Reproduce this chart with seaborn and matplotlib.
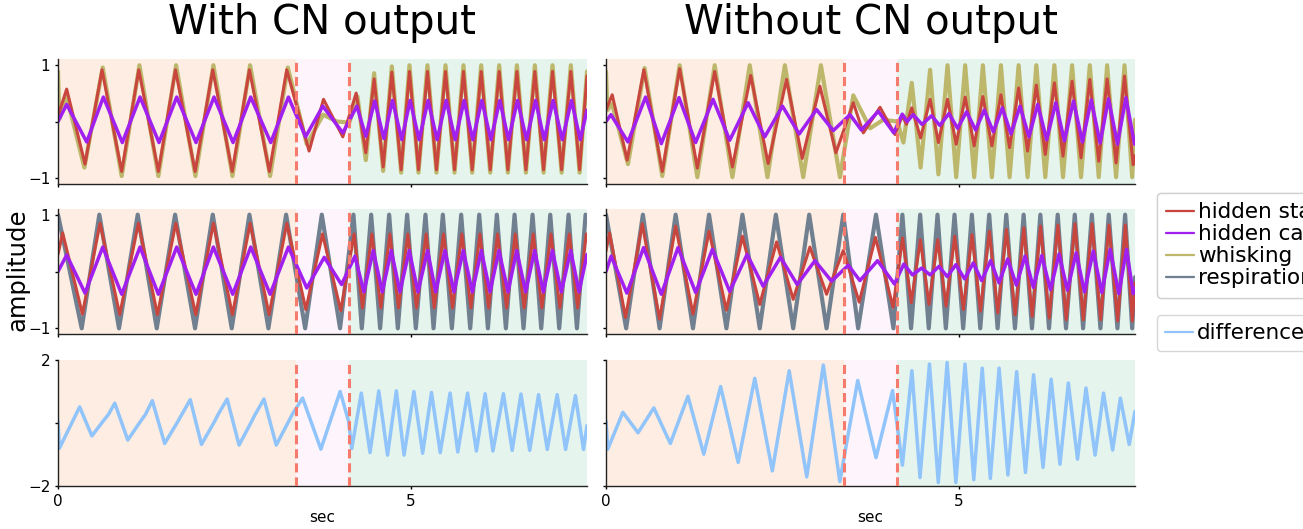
import matplotlib
matplotlib.use("Agg")
import matplotlib.pyplot as plt
import seaborn as sns
from matplotlib.lines import Line2D

# ---------------- data (time in s, amplitude) : extrema ----------------
PHASE_BOUNDS = [0.0, 3.375, 4.125, 7.5]
PANEL_TITLES = ["With CN output", "Without CN output"]
LEGEND_LABELS = ["hidden state", "hidden cause", "whisking", "respiration"]
DIFF_LABEL = "difference"

LT_WHISK = [(0, 0.88), (0.02, 0.05), (0.123, 0.44), (0.374, -0.81), (0.634, 0.95), (0.903, -0.96),
            (1.154, 0.99), (1.423, -0.96), (1.674, 0.99), (1.948, -0.96), (2.203, 0.99), (2.473, -0.96),
            (2.723, 0.99), (3.007, -0.96), (3.258, 0.95), (3.527, -0.40), (3.76, 0.12), (3.953, 0.0),
            (4.13, -0.02), (4.246, 0.44), (4.364, -0.68), (4.482, 0.85), (4.61, -0.87), (4.733, 0.97),
            (4.865, -0.9), (4.983, 0.99), (5.111, -0.9), (5.238, 0.99), (5.366, -0.9), (5.494, 0.99),
            (5.622, -0.9), (5.749, 0.99), (5.872, -0.9), (6.0, 0.99), (6.128, -0.9), (6.255, 0.99),
            (6.378, -0.9), (6.506, 0.99), (6.634, -0.9), (6.761, 0.99), (6.884, -0.9), (7.011, 0.99),
            (7.14, -0.9), (7.271, 0.99), (7.395, -0.9), (7.5, 0.88)]
LT_STATE = [(0, 0.1), (0.123, 0.57), (0.383, -0.75), (0.624, 0.91), (0.903, -0.88), (1.145, 0.91),
            (1.423, -0.88), (1.665, 0.91), (1.944, -0.88), (2.194, 0.91), (2.47, -0.88), (2.714, 0.91),
            (2.997, -0.88), (3.243, 0.91), (3.56, -0.52), (3.764, 0.39), (4.038, -0.27), (4.227, 0.50),
            (4.364, -0.55), (4.482, 0.75), (4.61, -0.8), (4.733, 0.87), (4.865, -0.85), (4.983, 0.88),
            (5.111, -0.85), (5.238, 0.88), (5.366, -0.85), (5.494, 0.88), (5.622, -0.85), (5.749, 0.88),
            (5.872, -0.85), (6.0, 0.88), (6.128, -0.85), (6.255, 0.88), (6.378, -0.85), (6.506, 0.88),
            (6.634, -0.85), (6.761, 0.88), (6.884, -0.85), (7.011, 0.88), (7.14, -0.85), (7.271, 0.88),
            (7.395, -0.85), (7.5, 0.8)]
LT_CAUSE = [(0, 0.0), (0.123, 0.30), (0.407, -0.36), (0.643, 0.43), (0.912, -0.37), (1.163, 0.43),
            (1.432, -0.37), (1.683, 0.43), (1.957, -0.37), (2.212, 0.43), (2.482, -0.37), (2.732, 0.43),
            (3.016, -0.37), (3.267, 0.43), (3.51, -0.27), (3.754, 0.27), (4.038, -0.20), (4.237, 0.27),
            (4.364, -0.26), (4.49, 0.36), (4.62, -0.3), (4.742, 0.37), (4.874, -0.32), (4.992, 0.37),
            (5.12, -0.32), (5.247, 0.37), (5.375, -0.32), (5.503, 0.37), (5.631, -0.32), (5.758, 0.37),
            (5.881, -0.32), (6.009, 0.37), (6.137, -0.32), (6.264, 0.37), (6.387, -0.32), (6.515, 0.37),
            (6.643, -0.32), (6.77, 0.37), (6.893, -0.32), (7.02, 0.37), (7.149, -0.32), (7.28, 0.37),
            (7.404, -0.32), (7.5, 0.2)]

RT_WHISK = [(0, 0.88), (0.02, 0.2), (0.088, 0.31), (0.311, -0.75), (0.547, 0.94), (0.798, -0.96),
            (1.044, 0.99), (1.295, -0.98), (1.541, 0.99), (1.792, -0.98), (2.038, 0.99), (2.289, -0.98),
            (2.536, 0.99), (2.796, -0.98), (3.047, 0.99), (3.317, -0.98), (3.506, 0.46), (3.745, -0.12),
            (3.93, 0.03), (4.13, 0.0), (4.217, -0.37), (4.335, 0.68), (4.46, -0.81), (4.595, 0.91),
            (4.713, -0.93), (4.842, 0.99), (4.965, -0.98), (5.092, 0.99), (5.22, -0.98), (5.343, 0.99),
            (5.471, -0.98), (5.599, 0.99), (5.722, -0.98), (5.85, 0.99), (5.977, -0.98), (6.101, 0.99),
            (6.228, -0.98), (6.357, 0.99), (6.479, -0.98), (6.608, 0.99), (6.735, -0.98), (6.859, 0.99),
            (6.986, -0.98), (7.105, 0.99), (7.232, -0.98), (7.351, 0.99), (7.46, -0.98), (7.5, 0.03)]
RT_STATE = [(0, 0.2), (0.088, 0.47), (0.30, -0.68), (0.537, 0.91), (0.798, -0.88), (1.044, 0.93),
            (1.295, -0.82), (1.541, 0.88), (1.792, -0.80), (2.052, 0.81), (2.299, -0.74), (2.559, 0.74),
            (2.782, -0.65), (3.033, 0.62), (3.26, -0.55), (3.506, 0.33), (3.648, -0.20), (3.885, 0.25),
            (4.098, -0.23), (4.2, 0.1), (4.26, -0.05), (4.335, 0.24), (4.46, -0.29), (4.595, 0.39),
            (4.713, -0.37), (4.842, 0.39), (4.965, -0.40), (5.092, 0.43), (5.22, -0.43), (5.343, 0.44),
            (5.471, -0.43), (5.599, 0.47), (5.722, -0.46), (5.85, 0.59), (5.977, -0.52), (6.101, 0.64),
            (6.228, -0.58), (6.357, 0.68), (6.479, -0.61), (6.608, 0.71), (6.735, -0.64), (6.859, 0.74),
            (6.986, -0.70), (7.105, 0.75), (7.232, -0.73), (7.351, 0.80), (7.474, -0.76), (7.5, -0.6)]
RT_CAUSE = [(0, 0.0), (0.07, 0.12), (0.311, -0.36), (0.561, 0.43), (0.784, -0.39), (1.035, 0.42),
            (1.271, -0.37), (1.518, 0.39), (1.754, -0.33), (2.015, 0.33), (2.251, -0.27), (2.502, 0.27),
            (2.739, -0.22), (2.985, 0.21), (3.222, -0.16), (3.459, 0.12), (3.62, -0.15), (3.86, 0.18),
            (4.08, -0.2), (4.2, 0.13), (4.27, 0.0), (4.355, 0.12), (4.48, -0.05), (4.615, 0.1),
            (4.733, -0.07), (4.862, 0.14), (4.985, -0.12), (5.112, 0.17), (5.24, -0.15), (5.363, 0.2),
            (5.491, -0.18), (5.619, 0.24), (5.742, -0.22), (5.87, 0.27), (5.997, -0.27), (6.121, 0.30),
            (6.248, -0.32), (6.377, 0.33), (6.499, -0.34), (6.628, 0.36), (6.755, -0.36), (6.879, 0.38),
            (7.006, -0.38), (7.125, 0.40), (7.252, -0.40), (7.371, 0.42), (7.494, -0.40), (7.5, -0.38)]

LM_RESP = [(0, 1.0), (0.336, -1), (0.586, 1), (0.865, -1), (1.13, 1), (1.40, -1), (1.66, 1),
           (1.943, -1), (2.194, 1), (2.463, -1), (2.714, 1), (2.983, -1), (3.234, 1), (3.504, -1),
           (3.74, 1), (3.999, -1), (4.189, 1), (4.307, -1), (4.44, 1), (4.567, -1), (4.695, 1),
           (4.818, -1), (4.95, 1), (5.073, -1), (5.21, 1), (5.324, -1), (5.456, 1), (5.584, -1),
           (5.716, 1), (5.844, -1), (5.972, 1), (6.095, -1), (6.222, 1), (6.35, -1), (6.473, 1),
           (6.6, -1), (6.728, 1), (6.851, -1), (6.979, 1), (7.106, -1), (7.239, 1), (7.357, -1),
           (7.48, 1), (7.5, 0.98)]
LM_STATE = [(0, 0.3), (0.066, 0.68), (0.346, -0.75), (0.596, 0.85), (0.875, -0.76), (1.14, 0.85),
            (1.41, -0.76), (1.67, 0.85), (1.953, -0.76), (2.204, 0.85), (2.473, -0.76), (2.724, 0.85),
            (2.993, -0.76), (3.244, 0.85), (3.514, -0.67), (3.75, 0.66), (4.009, -0.69), (4.199, 0.66),
            (4.317, -0.64), (4.45, 0.66), (4.577, -0.64), (4.705, 0.66), (4.828, -0.64), (4.96, 0.66),
            (5.083, -0.64), (5.22, 0.66), (5.334, -0.64), (5.466, 0.66), (5.594, -0.64), (5.726, 0.66),
            (5.854, -0.64), (5.982, 0.66), (6.105, -0.64), (6.232, 0.66), (6.36, -0.64), (6.483, 0.66),
            (6.61, -0.64), (6.738, 0.66), (6.861, -0.64), (6.989, 0.66), (7.116, -0.64), (7.249, 0.66),
            (7.367, -0.64), (7.49, 0.66), (7.5, 0.64)]
LM_CAUSE = [(0, 0.0), (0.123, 0.29), (0.383, -0.38), (0.634, 0.43), (0.903, -0.4), (1.163, 0.43),
            (1.423, -0.4), (1.683, 0.43), (1.957, -0.4), (2.203, 0.43), (2.477, -0.4), (2.733, 0.43),
            (3.007, -0.4), (3.267, 0.43), (3.527, -0.29), (3.775, 0.25), (4.02, -0.23), (4.21, 0.27),
            (4.337, -0.36), (4.47, 0.37), (4.597, -0.36), (4.725, 0.37), (4.848, -0.36), (4.98, 0.37),
            (5.103, -0.36), (5.24, 0.37), (5.354, -0.36), (5.486, 0.37), (5.614, -0.36), (5.746, 0.37),
            (5.874, -0.36), (6.002, 0.37), (6.125, -0.36), (6.252, 0.37), (6.38, -0.36), (6.503, 0.37),
            (6.63, -0.36), (6.758, 0.37), (6.881, -0.36), (7.009, 0.37), (7.136, -0.36), (7.269, 0.37),
            (7.387, -0.36), (7.5, 0.3)]

RM_RESP = [(0, 1.0), (0.286, -1), (0.523, 1), (0.76, -1), (0.987, 1), (1.233, -1), (1.461, 1),
           (1.707, -1), (1.934, 1), (2.18, -1), (2.408, 1), (2.654, -1), (2.881, 1), (3.127, -1),
           (3.364, 1), (3.575, -1), (3.828, 1), (4.075, -1), (4.202, 1), (4.325, -1), (4.454, 1),
           (4.576, -1), (4.7, 1), (4.818, -1), (4.941, 1), (5.064, -1), (5.187, 1), (5.306, -1),
           (5.433, 1), (5.552, -1), (5.675, 1), (5.798, -1), (5.921, 1), (6.039, -1), (6.158, 1),
           (6.281, -1), (6.404, 1), (6.522, -1), (6.646, 1), (6.764, -1), (6.888, 1), (7.01, -1),
           (7.128, 1), (7.251, -1), (7.36, 1), (7.46, -1), (7.5, -0.1)]
RM_STATE = [(0, 0.36), (0.05, 0.68), (0.277, -0.81), (0.514, 0.84), (0.76, -0.84), (0.987, 0.80),
            (1.233, -0.75), (1.461, 0.71), (1.707, -0.68), (1.934, 0.62), (2.18, -0.58), (2.418, 0.52),
            (2.654, -0.49), (2.891, 0.43), (3.127, -0.40), (3.364, 0.37), (3.59, -0.54), (3.82, 0.60),
            (4.07, -0.63), (4.205, 0.59), (4.328, -0.55), (4.457, 0.56), (4.579, -0.58), (4.703, 0.56),
            (4.821, -0.61), (4.944, 0.62), (5.067, -0.67), (5.19, 0.65), (5.309, -0.70), (5.436, 0.71),
            (5.555, -0.73), (5.678, 0.74), (5.801, -0.76), (5.924, 0.77), (6.042, -0.79), (6.161, 0.80),
            (6.284, -0.82), (6.407, 0.82), (6.525, -0.85), (6.649, 0.84), (6.767, -0.85), (6.891, 0.84),
            (7.013, -0.85), (7.131, 0.82), (7.254, -0.87), (7.363, 0.82), (7.463, -0.87), (7.5, -0.2)]
RM_CAUSE = [(0, 0.0), (0.073, 0.27), (0.296, -0.38), (0.533, 0.42), (0.784, -0.40), (1.021, 0.42),
            (1.271, -0.37), (1.508, 0.39), (1.754, -0.35), (2.0, 0.30), (2.228, -0.26), (2.474, 0.25),
            (2.711, -0.23), (2.962, 0.19), (3.198, -0.17), (3.435, 0.11), (3.6, -0.16), (3.85, 0.19),
            (4.09, -0.22), (4.222, 0.13), (4.345, -0.06), (4.474, 0.06), (4.596, -0.06), (4.72, 0.09),
            (4.838, -0.09), (4.961, 0.12), (5.084, -0.13), (5.207, 0.15), (5.326, -0.16), (5.453, 0.19),
            (5.572, -0.20), (5.695, 0.22), (5.818, -0.24), (5.941, 0.27), (6.059, -0.28), (6.178, 0.28),
            (6.301, -0.32), (6.424, 0.31), (6.542, -0.33), (6.666, 0.33), (6.784, -0.36), (6.908, 0.36),
            (7.03, -0.37), (7.148, 0.39), (7.271, -0.39), (7.38, 0.39), (7.475, -0.39), (7.5, -0.3)]

LB_DIFF = [(0, 0.06), (0.02, -0.80), (0.307, 0.51), (0.48, -0.41), (0.64, 0.06), (0.715, 0.27),
           (0.805, 0.63), (0.989, -0.54), (1.188, 0.11), (1.24, 0.27), (1.337, 0.71), (1.512, -0.65),
           (1.70, 0.05), (1.755, 0.27), (1.875, 0.74), (2.034, -0.68), (2.22, 0.05), (2.27, 0.27),
           (2.398, 0.76), (2.567, -0.70), (2.745, 0.05), (2.795, 0.27), (2.92, 0.76), (3.094, -0.70),
           (3.27, 0.05), (3.32, 0.27), (3.468, 0.79), (3.727, -0.83), (4.0, 1.0), (4.12, 0.05),
           (4.165, -0.81), (4.3, 0.95), (4.424, -0.94), (4.548, 1.02), (4.672, -1.02), (4.797, 1.02),
           (4.906, -1.02), (5.046, 1.0), (5.17, -0.96), (5.295, 0.97), (5.419, -0.94), (5.559, 0.95),
           (5.668, -0.92), (5.807, 0.95), (5.932, -0.89), (6.056, 0.93), (6.166, -0.89), (6.315, 0.93),
           (6.439, -0.87), (6.564, 0.92), (6.688, -0.87), (6.813, 0.90), (6.937, -0.84), (7.077, 0.90),
           (7.196, -0.84), (7.336, 0.87), (7.45, -0.84), (7.5, -0.08)]
RB_DIFF = [(0, 0.06), (0.025, -0.83), (0.239, 0.34), (0.454, -0.31), (0.678, 0.48), (0.912, -0.65),
           (1.162, 0.85), (1.386, -0.99), (1.625, 1.16), (1.874, -1.25), (2.109, 1.42), (2.358, -1.52),
           (2.597, 1.66), (2.846, -1.71), (3.081, 1.84), (3.315, -1.86), (3.569, 1.35), (3.828, -1.10),
           (4.063, 1.03), (4.202, -1.34), (4.337, 1.66), (4.452, -1.73), (4.586, 1.87), (4.711, -1.89),
           (4.836, 1.92), (4.96, -1.89), (5.09, 1.87), (5.214, -1.80), (5.334, 1.74), (5.449, -1.76),
           (5.573, 1.74), (5.698, -1.65), (5.822, 1.63), (5.947, -1.57), (6.062, 1.53), (6.196, -1.41),
           (6.311, 1.39), (6.436, -1.31), (6.555, 1.27), (6.685, -1.15), (6.805, 1.11), (6.934, -1.02),
           (7.054, 0.95), (7.183, -0.86), (7.293, 0.79), (7.418, -0.68), (7.5, 0.37)]

# ---------------- styling ----------------
sns.set_style("ticks")
plt.rcParams["font.family"] = ["DejaVu Sans"]
plt.rcParams["axes.unicode_minus"] = True
for k in ("text.color", "axes.labelcolor", "xtick.color", "ytick.color"):
    plt.rcParams[k] = "black"
plt.rcParams["axes.edgecolor"] = "#222222"
plt.rcParams["axes.linewidth"] = 1.0

C_STATE = "#c9463f"
C_CAUSE = "#a020f0"
C_WHISK = "#bdb76b"
C_RESP = "#708090"
C_DIFF = "#90c4fa"
C_DASH = "#f77b6d"
PHASE_COLORS = ["#fdede2", "#fdf5fb", "#e5f4ec"]

W, H = 1303, 529
fig = plt.figure(figsize=(W / 100, H / 100), dpi=100)


def add_ax(x0, x1, y0, y1):
    return fig.add_axes([x0 / W, 1 - y1 / H, (x1 - x0) / W, (y1 - y0) / H])


cols = [(58, 587), (606, 1135)]
rows = [(59, 184), (209, 334), (360, 486)]


def draw(ax, series, ylim, yt, ylab, bottom, first):
    ax.set_xlim(PHASE_BOUNDS[0], PHASE_BOUNDS[-1])
    ax.set_ylim(*ylim)
    for a, b, c in zip(PHASE_BOUNDS[:-1], PHASE_BOUNDS[1:], PHASE_COLORS):
        ax.axvspan(a, b, color=c, lw=0, zorder=0)
    for data, color, lw in series:
        xs = [p[0] for p in data]
        ys = [p[1] for p in data]
        sns.lineplot(x=xs, y=ys, ax=ax, color=color, lw=lw, sort=False,
                     estimator=None, legend=False, zorder=2)
        ax.lines[-1].set_solid_joinstyle("round")
    for b in PHASE_BOUNDS[1:-1]:
        ax.axvline(b, color=C_DASH, ls=(0, (3, 1.6)), lw=2.2, zorder=4)
    ax.set_yticks(yt)
    ax.set_yticklabels(ylab if first else ["", "", ""], fontsize=11)
    ax.set_xticks([0, 5])
    if bottom:
        ax.set_xticklabels(["0", "5"], fontsize=11)
        ax.set_xlabel("sec", fontsize=11, labelpad=1)
    else:
        ax.set_xticklabels([])
    ax.set_ylabel("")
    ax.tick_params(length=2, width=1, pad=3.5)
    sns.despine(ax=ax)


panels = [
    [[(LT_WHISK, C_WHISK, 3.0), (LT_STATE, C_STATE, 2.2), (LT_CAUSE, C_CAUSE, 2.5)],
     [(LM_RESP, C_RESP, 3.0), (LM_STATE, C_STATE, 2.2), (LM_CAUSE, C_CAUSE, 2.5)],
     [(LB_DIFF, C_DIFF, 2.5)]],
    [[(RT_WHISK, C_WHISK, 3.0), (RT_STATE, C_STATE, 2.2), (RT_CAUSE, C_CAUSE, 2.5)],
     [(RM_RESP, C_RESP, 3.0), (RM_STATE, C_STATE, 2.2), (RM_CAUSE, C_CAUSE, 2.5)],
     [(RB_DIFF, C_DIFF, 2.5)]],
]

for ci, (x0, x1) in enumerate(cols):
    for ri, (y0, y1) in enumerate(rows):
        ax = add_ax(x0, x1, y0, y1)
        if ri < 2:
            draw(ax, panels[ci][ri], (-1.1, 1.1), [-1, 0, 1], ["−1", "", "1"], False, ci == 0)
        else:
            draw(ax, panels[ci][ri], (-2, 2), [-2, 0, 2], ["−2", "", "2"], True, ci == 0)
    fig.text((x0 + x1) / 2 / W, 1 - 23 / H, PANEL_TITLES[ci], ha="center", va="center", fontsize=29)

fig.text(18 / W, 1 - 270 / H, "amplitude", rotation=90, ha="center", va="center", fontsize=17.5)

handles = [Line2D([], [], color=c, lw=1.6) for c in (C_STATE, C_CAUSE, C_WHISK, C_RESP)]
leg1 = fig.legend(handles, LEGEND_LABELS, loc="upper left", bbox_to_anchor=(1157 / W, 1 - 193 / H),
                  fontsize=15.5, handlelength=1.3, handletextpad=0.18, labelspacing=0.1,
                  borderpad=0.42, borderaxespad=0)
fig.add_artist(leg1)
fig.legend([Line2D([], [], color=C_DIFF, lw=1.6)], [DIFF_LABEL], loc="upper left",
           bbox_to_anchor=(1157 / W, 1 - 315 / H), fontsize=15.5, handlelength=1.3,
           handletextpad=0.18, borderpad=0.38, borderaxespad=0)

fig.savefig("out.png", dpi=100)
